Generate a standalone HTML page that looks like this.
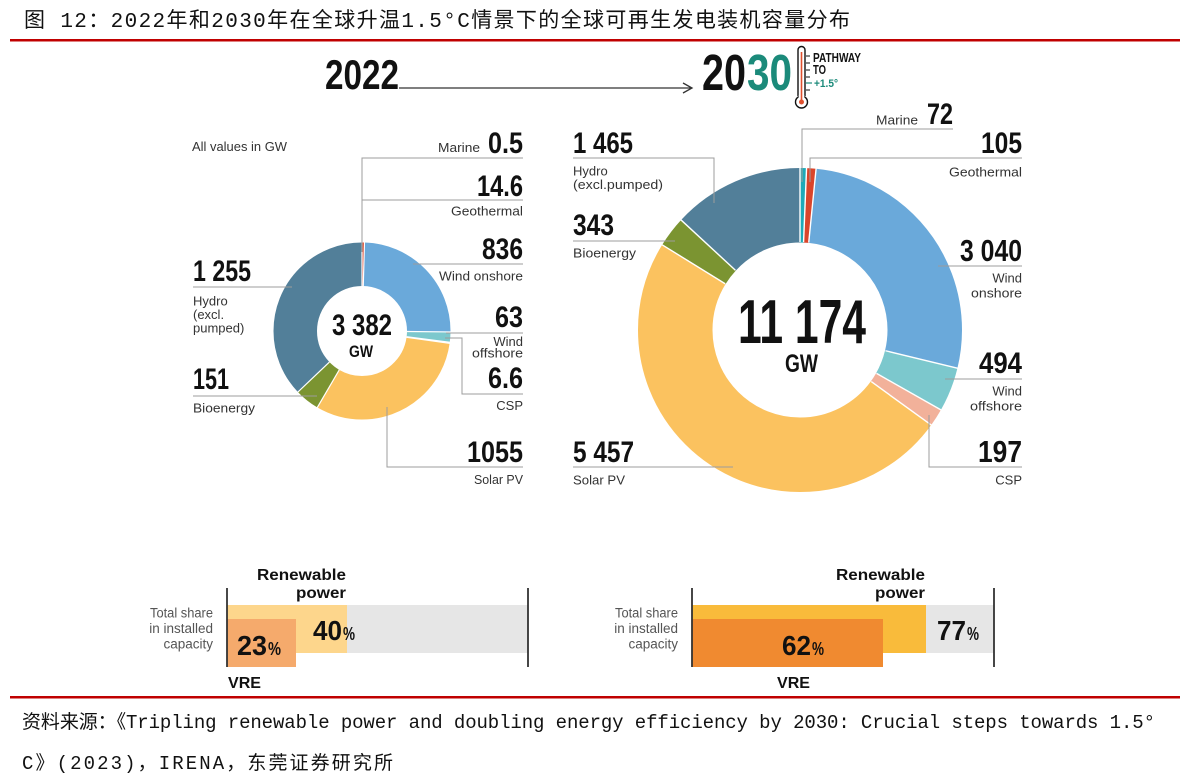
<!DOCTYPE html>
<html><head><meta charset="utf-8">
<style>
html,body{margin:0;padding:0;background:#fff;}
svg{display:block;}
.n{font-family:"Liberation Sans Narrow","Liberation Sans",sans-serif;font-weight:bold;fill:#111;}
.l{font-family:"Liberation Sans",sans-serif;font-size:13px;fill:#333;}
.g{font-family:"Liberation Sans",sans-serif;font-size:13.5px;fill:#555;}
.b{font-family:"Liberation Sans",sans-serif;font-size:16px;font-weight:bold;fill:#111;}
.ld{stroke:#9c9c9c;stroke-width:1;fill:none;}
.cj{font-family:"Liberation Mono","Noto Sans CJK SC",monospace;fill:#111;}
</style></head>
<body>
<svg width="1184" height="773" viewBox="0 0 1184 773" xmlns="http://www.w3.org/2000/svg">
<rect width="1184" height="773" fill="#fff"/>

<!-- Title -->
<text class="cj" x="24" y="27" font-size="21" textLength="826" lengthAdjust="spacing">图 12：2022年和2030年在全球升温1.5°C情景下的全球可再生发电装机容量分布</text>
<rect x="10" y="39" width="1170" height="2.5" fill="#c00000"/>

<!-- Header -->
<text class="n" x="325" y="89" font-size="42" textLength="74" lengthAdjust="spacingAndGlyphs">2022</text>
<line x1="399" y1="88" x2="691" y2="88" stroke="#333" stroke-width="1.3"/>
<path d="M683,83 L692,88 L683,93" fill="none" stroke="#333" stroke-width="1.3"/>
<text class="n" x="702" y="90" font-size="51" textLength="44" lengthAdjust="spacingAndGlyphs">20</text>
<text class="n" x="747" y="90" font-size="51" textLength="45" lengthAdjust="spacingAndGlyphs" style="fill:#1b8a7a">30</text>
<!-- thermometer -->
<path d="M798,96 L798,50 A3.5,3.5 0 0 1 805,50 L805,96" fill="#fff" stroke="#111" stroke-width="1.4"/>
<circle cx="801.5" cy="102" r="6" fill="#fff" stroke="#111" stroke-width="1.4"/>
<rect x="798.7" y="95" width="5.6" height="4" fill="#fff"/>
<line x1="801.5" y1="52" x2="801.5" y2="101" stroke="#e0502e" stroke-width="1.6"/>
<circle cx="801.5" cy="102" r="2.5" fill="#e0502e"/>
<g stroke="#111" stroke-width="1">
<line x1="806" y1="56" x2="810" y2="56"/><line x1="806" y1="63" x2="810" y2="63"/>
<line x1="806" y1="70" x2="810" y2="70"/><line x1="806" y1="77" x2="810" y2="77"/>
<line x1="806" y1="90" x2="810" y2="90"/>
</g>
<line x1="806" y1="83" x2="812" y2="83" stroke="#1b8a7a" stroke-width="1.2"/>
<text class="n" x="813" y="62" font-size="13" textLength="48" lengthAdjust="spacingAndGlyphs">PATHWAY</text>
<text class="n" x="813" y="74" font-size="13" textLength="13" lengthAdjust="spacingAndGlyphs">TO</text>
<text class="n" x="814" y="87" font-size="11" textLength="24" lengthAdjust="spacingAndGlyphs" style="fill:#1b8a7a">+1.5°</text>

<!-- Left donut -->
<g transform="rotate(-90 362 331)" fill="none" stroke-width="43.5">
<circle cx="362" cy="331" r="66.75" stroke="#1eaab9" stroke-dasharray="0.062 1000" stroke-dashoffset="0"/>
<circle cx="362" cy="331" r="66.75" stroke="#d9452b" stroke-dasharray="1.81 1000" stroke-dashoffset="-0.062"/>
<circle cx="362" cy="331" r="66.75" stroke="#6aa9da" stroke-dasharray="103.67 1000" stroke-dashoffset="-1.872"/>
<circle cx="362" cy="331" r="66.75" stroke="#7cc8cd" stroke-dasharray="7.81 1000" stroke-dashoffset="-105.54"/>
<circle cx="362" cy="331" r="66.75" stroke="#f2b19a" stroke-dasharray="0.82 1000" stroke-dashoffset="-113.35"/>
<circle cx="362" cy="331" r="66.75" stroke="#fbc25f" stroke-dasharray="130.83 1000" stroke-dashoffset="-114.17"/>
<circle cx="362" cy="331" r="66.75" stroke="#7b9431" stroke-dasharray="18.73 1000" stroke-dashoffset="-245.0"/>
<circle cx="362" cy="331" r="66.75" stroke="#527f99" stroke-dasharray="155.7 1000" stroke-dashoffset="-263.73"/>
</g>
<g stroke="#fff" stroke-width="1.2">
<line x1="362" y1="286" x2="362" y2="242" transform="rotate(0 362 331)"/>
<line x1="362" y1="286" x2="362" y2="242" transform="rotate(1.6 362 331)"/>
<line x1="362" y1="286" x2="362" y2="242" transform="rotate(90.6 362 331)"/>
<line x1="362" y1="286" x2="362" y2="242" transform="rotate(97.3 362 331)"/>
<line x1="362" y1="286" x2="362" y2="242" transform="rotate(98.0 362 331)"/>
<line x1="362" y1="286" x2="362" y2="242" transform="rotate(210.3 362 331)"/>
<line x1="362" y1="286" x2="362" y2="242" transform="rotate(226.4 362 331)"/>
</g>

<!-- Left leaders -->
<path class="ld" d="M362,252 L362,158 L523,158"/>
<path class="ld" d="M362,200 L523,200"/>
<path class="ld" d="M413,264 L523,264"/>
<path class="ld" d="M446,333 L523,333"/>
<path class="ld" d="M445,338 L462,338 L462,394 L523,394"/>
<path class="ld" d="M387,407 L387,467 L523,467"/>
<path class="ld" d="M193,287 L292,287"/>
<path class="ld" d="M193,396 L317,396"/>

<!-- Left labels -->
<text class="l" x="192" y="151" font-size="12.5" textLength="95" lengthAdjust="spacingAndGlyphs">All values in GW</text>
<text class="l" x="480" y="152" text-anchor="end" textLength="42" lengthAdjust="spacingAndGlyphs">Marine</text>
<text class="n" x="523" y="153" font-size="30" text-anchor="end" textLength="35" lengthAdjust="spacingAndGlyphs">0.5</text>
<text class="n" x="523" y="196" font-size="30" text-anchor="end" textLength="46" lengthAdjust="spacingAndGlyphs">14.6</text>
<text class="l" x="523" y="215.5" text-anchor="end" textLength="72" lengthAdjust="spacingAndGlyphs">Geothermal</text>
<text class="n" x="523" y="259" font-size="30" text-anchor="end" textLength="41" lengthAdjust="spacingAndGlyphs">836</text>
<text class="l" x="523" y="280.5" text-anchor="end" textLength="84" lengthAdjust="spacingAndGlyphs">Wind onshore</text>
<text class="n" x="523" y="327" font-size="30" text-anchor="end" textLength="28" lengthAdjust="spacingAndGlyphs">63</text>
<text class="l" x="523" y="346" text-anchor="end">Wind</text>
<text class="l" x="523" y="357.5" text-anchor="end" textLength="51" lengthAdjust="spacingAndGlyphs">offshore</text>
<text class="n" x="523" y="388" font-size="30" text-anchor="end" textLength="35" lengthAdjust="spacingAndGlyphs">6.6</text>
<text class="l" x="523" y="410" text-anchor="end">CSP</text>
<text class="n" x="523" y="462" font-size="30" text-anchor="end" textLength="56" lengthAdjust="spacingAndGlyphs">1055</text>
<text class="l" x="523" y="484" text-anchor="end" textLength="49" lengthAdjust="spacingAndGlyphs">Solar PV</text>
<text class="n" x="193" y="281" font-size="30" textLength="58" lengthAdjust="spacingAndGlyphs">1 255</text>
<text class="l" x="193" y="305.5">Hydro</text>
<text class="l" x="193" y="319">(excl.</text>
<text class="l" x="193" y="332.5">pumped)</text>
<text class="n" x="193" y="389" font-size="30" textLength="36" lengthAdjust="spacingAndGlyphs">151</text>
<text class="l" x="193" y="412.5" textLength="62" lengthAdjust="spacingAndGlyphs">Bioenergy</text>
<text class="n" x="362" y="335" font-size="30" text-anchor="middle" textLength="60" lengthAdjust="spacingAndGlyphs">3 382</text>
<text class="n" x="361" y="357" font-size="17" text-anchor="middle" textLength="24" lengthAdjust="spacingAndGlyphs">GW</text>

<!-- Right donut -->
<g transform="rotate(-90 800 330)" fill="none" stroke-width="74.5">
<circle cx="800" cy="330" r="124.75" stroke="#1eaab9" stroke-dasharray="5.05 2000" stroke-dashoffset="0"/>
<circle cx="800" cy="330" r="124.75" stroke="#d9452b" stroke-dasharray="7.37 2000" stroke-dashoffset="-5.05"/>
<circle cx="800" cy="330" r="124.75" stroke="#6aa9da" stroke-dasharray="213.25 2000" stroke-dashoffset="-12.42"/>
<circle cx="800" cy="330" r="124.75" stroke="#7cc8cd" stroke-dasharray="34.65 2000" stroke-dashoffset="-225.67"/>
<circle cx="800" cy="330" r="124.75" stroke="#f2b19a" stroke-dasharray="13.82 2000" stroke-dashoffset="-260.32"/>
<circle cx="800" cy="330" r="124.75" stroke="#fbc25f" stroke-dasharray="382.79 2000" stroke-dashoffset="-274.14"/>
<circle cx="800" cy="330" r="124.75" stroke="#7b9431" stroke-dasharray="24.06 2000" stroke-dashoffset="-656.93"/>
<circle cx="800" cy="330" r="124.75" stroke="#527f99" stroke-dasharray="102.9 2000" stroke-dashoffset="-680.99"/>
</g>
<g stroke="#fff" stroke-width="1.4">
<line x1="800" y1="242" x2="800" y2="167" transform="rotate(0 800 330)"/>
<line x1="800" y1="242" x2="800" y2="167" transform="rotate(2.32 800 330)"/>
<line x1="800" y1="242" x2="800" y2="167" transform="rotate(5.7 800 330)"/>
<line x1="800" y1="242" x2="800" y2="167" transform="rotate(103.64 800 330)"/>
<line x1="800" y1="242" x2="800" y2="167" transform="rotate(119.56 800 330)"/>
<line x1="800" y1="242" x2="800" y2="167" transform="rotate(125.91 800 330)"/>
<line x1="800" y1="242" x2="800" y2="167" transform="rotate(301.72 800 330)"/>
<line x1="800" y1="242" x2="800" y2="167" transform="rotate(312.77 800 330)"/>
</g>

<!-- Right leaders -->
<path class="ld" d="M802,182 L802,129 L953,129"/>
<path class="ld" d="M810,182 L810,158 L1022,158"/>
<path class="ld" d="M938,266 L1022,266"/>
<path class="ld" d="M945,379 L1022,379"/>
<path class="ld" d="M929,415 L929,467 L1022,467"/>
<path class="ld" d="M573,158 L714,158 L714,203"/>
<path class="ld" d="M573,241 L675,241"/>
<path class="ld" d="M573,467 L733,467"/>

<!-- Right labels -->
<text class="l" x="918" y="124.5" text-anchor="end" textLength="42" lengthAdjust="spacingAndGlyphs">Marine</text>
<text class="n" x="953" y="124" font-size="30" text-anchor="end" textLength="26" lengthAdjust="spacingAndGlyphs">72</text>
<text class="n" x="1022" y="153" font-size="30" text-anchor="end" textLength="41" lengthAdjust="spacingAndGlyphs">105</text>
<text class="l" x="1022" y="176.5" text-anchor="end" textLength="73" lengthAdjust="spacingAndGlyphs">Geothermal</text>
<text class="n" x="1022" y="261" font-size="31" text-anchor="end" textLength="62" lengthAdjust="spacingAndGlyphs">3 040</text>
<text class="l" x="1022" y="282.5" text-anchor="end">Wind</text>
<text class="l" x="1022" y="297.5" text-anchor="end" textLength="51" lengthAdjust="spacingAndGlyphs">onshore</text>
<text class="n" x="1022" y="373" font-size="30" text-anchor="end" textLength="43" lengthAdjust="spacingAndGlyphs">494</text>
<text class="l" x="1022" y="395.5" text-anchor="end">Wind</text>
<text class="l" x="1022" y="410.5" text-anchor="end" textLength="52" lengthAdjust="spacingAndGlyphs">offshore</text>
<text class="n" x="1022" y="462" font-size="31" text-anchor="end" textLength="44" lengthAdjust="spacingAndGlyphs">197</text>
<text class="l" x="1022" y="484.5" text-anchor="end">CSP</text>
<text class="n" x="573" y="153" font-size="30" textLength="60" lengthAdjust="spacingAndGlyphs">1 465</text>
<text class="l" x="573" y="175.5">Hydro</text>
<text class="l" x="573" y="189" textLength="90" lengthAdjust="spacingAndGlyphs">(excl.pumped)</text>
<text class="n" x="573" y="235" font-size="30" textLength="41" lengthAdjust="spacingAndGlyphs">343</text>
<text class="l" x="573" y="257.5" textLength="63" lengthAdjust="spacingAndGlyphs">Bioenergy</text>
<text class="n" x="573" y="462" font-size="30" textLength="61" lengthAdjust="spacingAndGlyphs">5 457</text>
<text class="l" x="573" y="484.5" textLength="52" lengthAdjust="spacingAndGlyphs">Solar PV</text>
<text class="n" x="802" y="343" font-size="62" text-anchor="middle" textLength="128" lengthAdjust="spacingAndGlyphs">11 174</text>
<text class="n" x="801.5" y="372" font-size="25" text-anchor="middle" textLength="33" lengthAdjust="spacingAndGlyphs">GW</text>

<!-- Left bar -->
<rect x="227" y="605" width="301" height="48" fill="#e6e6e6"/>
<rect x="227" y="605" width="120" height="48" fill="#fdd68c"/>
<rect x="227" y="619" width="69" height="48" fill="#f5aa6c"/>
<line x1="227" y1="588" x2="227" y2="667" stroke="#333" stroke-width="1.8"/>
<line x1="528" y1="588" x2="528" y2="667" stroke="#333" stroke-width="1.8"/>
<text class="b" x="346" y="580" text-anchor="end" textLength="89" lengthAdjust="spacingAndGlyphs">Renewable</text>
<text class="b" x="346" y="598" text-anchor="end" textLength="50" lengthAdjust="spacingAndGlyphs">power</text>
<text class="g" x="213" y="617.5" text-anchor="end" textLength="63" lengthAdjust="spacingAndGlyphs">Total share</text>
<text class="g" x="213" y="633" text-anchor="end">in installed</text>
<text class="g" x="213" y="648.5" text-anchor="end">capacity</text>
<text class="n" x="313" y="640" font-size="28" textLength="29" lengthAdjust="spacingAndGlyphs">40</text>
<text class="n" x="343" y="640" font-size="18" textLength="12" lengthAdjust="spacingAndGlyphs">%</text>
<text class="n" x="237" y="655" font-size="28" textLength="30" lengthAdjust="spacingAndGlyphs">23</text>
<text class="n" x="268" y="655" font-size="18" textLength="13" lengthAdjust="spacingAndGlyphs">%</text>
<text class="b" x="228" y="688" textLength="33" lengthAdjust="spacingAndGlyphs">VRE</text>

<!-- Right bar -->
<rect x="692" y="605" width="302" height="48" fill="#e6e6e6"/>
<rect x="692" y="605" width="234" height="48" fill="#f9bb3b"/>
<rect x="692" y="619" width="191" height="48" fill="#f08a30"/>
<line x1="692" y1="588" x2="692" y2="667" stroke="#333" stroke-width="1.8"/>
<line x1="994" y1="588" x2="994" y2="667" stroke="#333" stroke-width="1.8"/>
<text class="b" x="925" y="580" text-anchor="end" textLength="89" lengthAdjust="spacingAndGlyphs">Renewable</text>
<text class="b" x="925" y="598" text-anchor="end" textLength="50" lengthAdjust="spacingAndGlyphs">power</text>
<text class="g" x="678" y="617.5" text-anchor="end" textLength="63" lengthAdjust="spacingAndGlyphs">Total share</text>
<text class="g" x="678" y="633" text-anchor="end">in installed</text>
<text class="g" x="678" y="648.5" text-anchor="end">capacity</text>
<text class="n" x="937" y="640" font-size="28" textLength="29" lengthAdjust="spacingAndGlyphs">77</text>
<text class="n" x="967" y="640" font-size="18" textLength="12" lengthAdjust="spacingAndGlyphs">%</text>
<text class="n" x="782" y="655" font-size="28" textLength="29" lengthAdjust="spacingAndGlyphs">62</text>
<text class="n" x="812" y="655" font-size="18" textLength="12" lengthAdjust="spacingAndGlyphs">%</text>
<text class="b" x="777" y="688" textLength="33" lengthAdjust="spacingAndGlyphs">VRE</text>

<!-- Footer -->
<rect x="10" y="696" width="1170" height="2.5" fill="#c00000"/>
<text class="cj" x="22" y="728" font-size="19" textLength="1133" lengthAdjust="spacing">资料来源：《Tripling renewable power and doubling energy efficiency by 2030: Crucial steps towards 1.5°</text>
<text class="cj" x="22" y="769" font-size="19" textLength="371" lengthAdjust="spacing">C》(2023)，IRENA，东莞证券研究所</text>
</svg>
</body></html>
